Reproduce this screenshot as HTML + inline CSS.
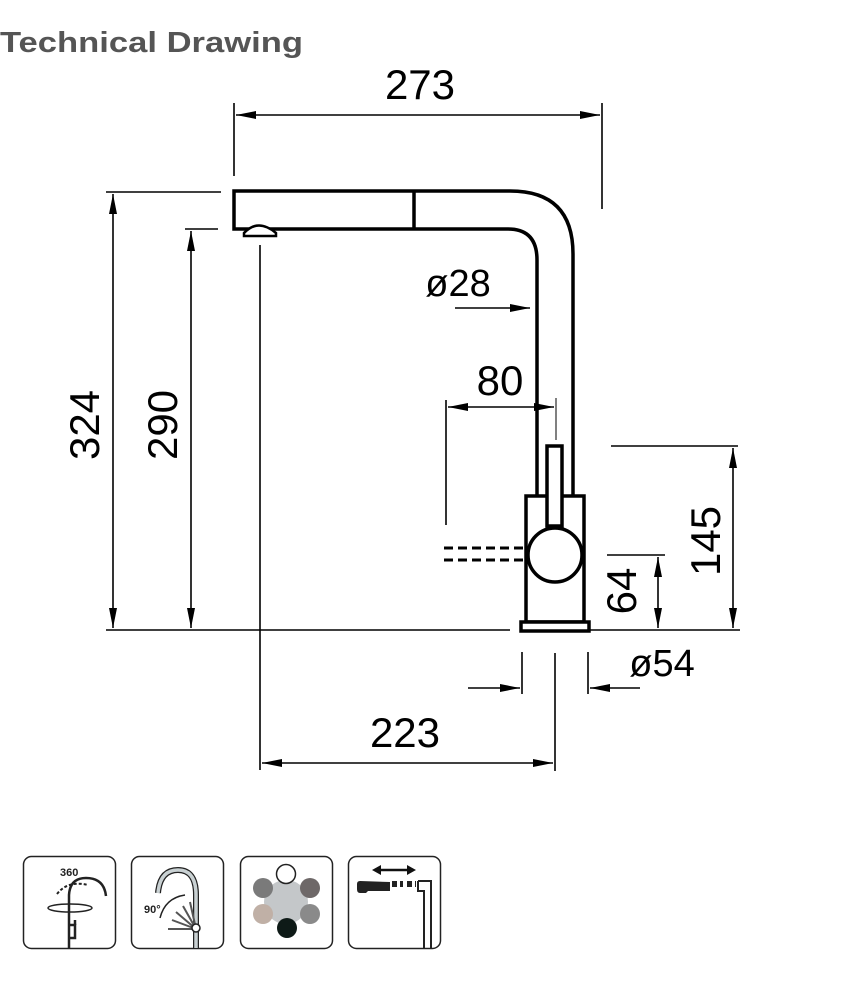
<!DOCTYPE html>
<html><head><meta charset="utf-8"><style>
html,body{margin:0;padding:0;background:#fff;width:855px;height:997px;overflow:hidden}
svg{display:block}
</style></head><body>
<svg width="855" height="997" viewBox="0 0 855 997" xmlns="http://www.w3.org/2000/svg">
<defs>
<marker id="a" viewBox="0 0 20 8" refX="20" refY="4" markerWidth="20" markerHeight="8" markerUnits="userSpaceOnUse" orient="auto-start-reverse"><path d="M0,0 L20,4 L0,8 Z" fill="#000"/></marker>
</defs>
<text x="0" y="52" font-family="Liberation Sans, sans-serif" font-weight="bold" font-size="29" fill="#555" textLength="303" lengthAdjust="spacingAndGlyphs">Technical Drawing</text>

<g stroke="#000" fill="none" stroke-width="1.6">
 <line x1="234" y1="103" x2="234" y2="176"/>
 <line x1="602" y1="103" x2="602" y2="209"/>
 <line x1="106" y1="192" x2="221" y2="192"/>
 <line x1="185" y1="229" x2="218" y2="229"/>
 <line x1="106" y1="630" x2="510" y2="630"/>
 <line x1="590" y1="630" x2="740" y2="630"/>
 <line x1="611" y1="446" x2="738" y2="446"/>
 <line x1="607" y1="555" x2="665" y2="555"/>
 <line x1="260" y1="245" x2="260" y2="770"/>
 <line x1="446" y1="400" x2="446" y2="525"/>
 <line x1="522" y1="652" x2="522" y2="694"/>
 <line x1="555" y1="653" x2="555" y2="771"/>
 <line x1="588" y1="652" x2="588" y2="694"/>
 <line x1="556" y1="398" x2="556" y2="440" stroke-width="1"/>
 <line x1="236" y1="115" x2="600" y2="115" marker-start="url(#a)" marker-end="url(#a)"/>
 <line x1="113" y1="194" x2="113" y2="628" marker-start="url(#a)" marker-end="url(#a)"/>
 <line x1="191" y1="231" x2="191" y2="628" marker-start="url(#a)" marker-end="url(#a)"/>
 <line x1="262" y1="763" x2="553" y2="763" marker-start="url(#a)" marker-end="url(#a)"/>
 <line x1="448" y1="407" x2="554" y2="407" marker-start="url(#a)" marker-end="url(#a)"/>
 <line x1="733" y1="448" x2="733" y2="628" marker-start="url(#a)" marker-end="url(#a)"/>
 <line x1="658" y1="557" x2="658" y2="628" marker-start="url(#a)" marker-end="url(#a)"/>
 <line x1="455" y1="308" x2="530" y2="308" marker-end="url(#a)"/>
 <line x1="468" y1="688" x2="520" y2="688" marker-end="url(#a)"/>
 <line x1="640" y1="688" x2="590" y2="688" marker-end="url(#a)"/>
</g>

<g stroke="#000" fill="none" stroke-width="3.5">
 <path d="M537,496 L537,260 Q537,229 508,229 L234,229 L234,191 L510,191 Q573,191 573,254 L573,496"/>
 <line x1="414" y1="191" x2="414" y2="229"/>
 <rect x="526" y="496" width="58" height="126" fill="#fff"/>
 <rect x="521" y="622" width="68" height="9" fill="#fff"/>
 <rect x="547" y="446" width="15" height="80" fill="#fff"/>
 <circle cx="555" cy="555" r="27" fill="#fff"/>
 <path d="M244,233 Q258,218 276,233 L276,236 L244,236 Z" fill="#fff" stroke-width="2.5"/>
 <line x1="444" y1="548" x2="526" y2="548" stroke-dasharray="9,5" stroke-width="3"/>
 <line x1="444" y1="560" x2="526" y2="560" stroke-dasharray="9,5" stroke-width="3"/>
</g>

<g font-family="Liberation Sans, sans-serif" font-size="42" fill="#000" text-anchor="middle">
 <text x="420" y="99">273</text>
 <text x="405" y="747">223</text>
 <text x="500" y="395">80</text>
 <text x="458" y="296" font-size="38">ø28</text>
 <text x="662" y="676" font-size="38">ø54</text>
 <text transform="translate(99,425) rotate(-90)">324</text>
 <text transform="translate(177,425) rotate(-90)">290</text>
 <text transform="translate(720,541) rotate(-90)">145</text>
 <text transform="translate(636,591) rotate(-90)">64</text>
</g>

<g stroke="#222" stroke-width="1.5" fill="#fff">
 <rect x="23.5" y="856.5" width="92" height="92" rx="8"/>
 <rect x="131.5" y="856.5" width="92" height="92" rx="8"/>
 <rect x="240.5" y="856.5" width="92" height="92" rx="8"/>
 <rect x="348.5" y="856.5" width="92" height="92" rx="8"/>
</g>
<g stroke="#222" fill="none" stroke-width="2.5">
 <path d="M69,948 L69,895 Q70,878 86,878 Q104,878 106,896"/>
 <path d="M57,894 Q68,880 88,885" stroke-dasharray="3,2" stroke-width="2"/>
 <ellipse cx="70" cy="908" rx="22" ry="4" stroke-width="1.5"/>
 <path d="M69,925 L75,925 L75,938 L69,938"/>
 <line x1="75" y1="920" x2="75" y2="925"/>
</g>
<text x="60" y="876" font-family="Liberation Sans, sans-serif" font-size="11" font-weight="bold" fill="#222">360</text>
<g fill="none">
 <path d="M158,893 Q160,870 178,870 Q196,870 196,895 L196,948" stroke="#222" stroke-width="6"/>
 <path d="M158,893 Q160,870 178,870 Q196,870 196,895 L196,948" stroke="#c9d1d3" stroke-width="3.5"/>
 <path d="M160,918 Q165,898 185,895" stroke="#222" stroke-width="1.5"/>
 <path d="M168,929 L196,929 M172,920 L196,929 M176,912 L196,929 M183,906 L196,929 M190,902 L196,929" stroke="#555" stroke-width="2"/>
 <circle cx="196" cy="928" r="4" fill="#fff" stroke="#222" stroke-width="1.5"/>
</g>
<text x="144" y="913" font-family="Liberation Sans, sans-serif" font-size="11" font-weight="bold" fill="#222">90°</text>
<circle cx="286" cy="902" r="22" fill="#c4c7c9"/>
<circle cx="286" cy="874" r="9.5" fill="#fff" stroke="#222" stroke-width="1.5"/>
<circle cx="263" cy="888" r="10" fill="#7a7a7a"/>
<circle cx="310" cy="888" r="10" fill="#6e6868"/>
<circle cx="263" cy="914" r="10" fill="#c0b0a6"/>
<circle cx="310" cy="914" r="10" fill="#8a8a8a"/>
<circle cx="287" cy="928" r="10" fill="#0e1a17"/>
<g>
 <path d="M378,870 L410,870" stroke="#111" stroke-width="2.5"/>
 <path d="M372,870 L381,865 L381,875 Z M416,870 L407,865 L407,875 Z" fill="#111"/>
 <path d="M357,884 Q357,881 360,881 L390,882 L390,891 L368,891 L366,893 L360,893 Q357,893 357,889 Z" fill="#222"/>
 <path d="M392,884 L403,884 M407,884 L416,884" stroke="#222" stroke-width="6" stroke-dasharray="5,3"/>
 <path d="M418,881 L431,881 L431,948 M418,881 L418,891 L424,891 L424,948" fill="none" stroke="#222" stroke-width="2"/>
</g>
</svg>
</body></html>
